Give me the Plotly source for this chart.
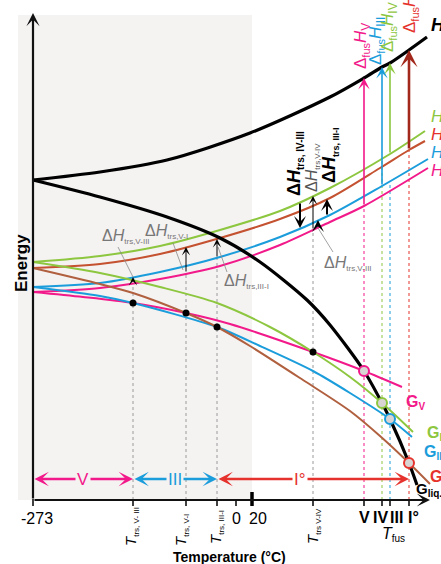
import plotly.graph_objects as go

FONT = "Liberation Sans, Arial, sans-serif"

PINK = "#f2198a"
BLUE = "#1b9ddb"
GREEN = "#8dc63f"
BROWN_H = "#c4512f"
BROWN_G = "#b0603f"
RED = "#e5322d"
DARKRED = "#a3281c"
SHADE = "#f5f2f2"
GREY = "#777777"
DOTGREY = "#9a9a9a"

# Temperature positions along the axis (arbitrary units, 0 = -273 °C)
T_ABS0 = 0
T_V_III = 100
T_V_I = 153
T_III_I = 184
T_ZERO = 203
T_TWENTY = 219
T_V_IV = 280
T_FUS = [331, 349, 357, 376]          # V, IV, III, I°
AXIS_END_T = 397
AXIS_TOP_E = 487

# Enthalpy curves (energy, arbitrary units)
h_liq_T = [0, 67, 134, 217, 297, 331, 349, 357, 376, 394]
h_liq_E = [320, 328, 340, 367, 403, 422, 433, 437, 450, 463]
h_V_T = [0, 67, 127, 187, 247, 297, 331, 395]
h_V_E = [208, 212, 221, 234, 255, 278, 294, 332]
h_III_T = [0, 67, 127, 187, 247, 297, 349, 395]
h_III_E = [213, 217, 228, 243, 263, 285, 314, 341]
h_I_T = [0, 67, 127, 187, 247, 297, 347, 376, 392]
h_I_E = [232, 236, 246, 262, 281, 302, 332, 350, 359]
h_IV_T = [0, 67, 127, 187, 247, 297, 357, 392]
h_IV_E = [238, 244, 254, 270, 289, 312, 346, 369]

# Free-energy curves
g_liq_T = [0, 67, 134, 187, 227, 274, 297, 331, 349, 357, 376, 384]
g_liq_E = [320, 303, 283, 262, 238, 200, 175, 129, 97, 81, 37, 15]
g_V_T = [0, 50, 100, 153, 197, 280, 331, 369]
g_V_E = [208, 203, 197, 187, 176, 148, 129, 113]
g_III_T = [0, 67, 100, 184, 227, 280, 317, 357, 379]
g_III_E = [213, 204, 197, 173, 154, 129, 107, 81, 63]
g_I_T = [0, 67, 100, 153, 184, 217, 270, 317, 347, 376, 397]
g_I_E = [232, 216, 207, 187, 173, 154, 120, 89, 64, 37, 16]
g_IV_T = [0, 67, 127, 184, 237, 280, 317, 349, 380]
g_IV_E = [238, 227, 213, 197, 173, 148, 123, 97, 68]

# Solid-solid transition points (G crossings) and enthalpy gaps there
trs_T = [T_V_III, T_V_I, T_III_I, T_V_IV]
trs_G = [197, 187, 173, 148]
trs_H_low = [217, 227, 242, 270]
trs_H_high = [223, 253, 261, 304]

# Melting points: G crossings with the liquid, H of solid and liquid
fus_G = [129, 97, 81, 37]
fus_H_solid = [294, 314, 346, 350]
fus_H_liq = [422, 433, 437, 450]
fus_arrow_colors = [PINK, BLUE, GREEN, DARKRED]
fus_circle_colors = [PINK, GREEN, BLUE, RED]
fus_dot_tops = [294, 341, 319, 350]
fus_dot_colors = [PINK, GREEN, BLUE, RED]

# Bold enthalpy-difference arrows near T_trs,V-IV
dh_T = [267, 294, 285]
dh_from = [298, 284, 272]
dh_to = [272, 301, 280]

# Stability ranges on the temperature axis
ranges = [("V", T_ABS0, T_V_III, PINK, 50, SHADE),
          ("III", T_V_III, T_III_I, BLUE, 142, SHADE),
          ("I°", T_III_I, T_FUS[3], RED, 267, "white")]

fig = go.Figure()


def curve(T, E, color, width):
    fig.add_trace(go.Scatter(x=T, y=E, mode="lines", hoverinfo="skip",
                             line=dict(color=color, width=width, shape="spline", smoothing=0.8)))


for T, E, c in [(h_V_T, h_V_E, PINK), (h_III_T, h_III_E, BLUE), (h_I_T, h_I_E, BROWN_H),
                (h_IV_T, h_IV_E, GREEN), (g_V_T, g_V_E, PINK), (g_III_T, g_III_E, BLUE),
                (g_I_T, g_I_E, BROWN_G), (g_IV_T, g_IV_E, GREEN)]:
    curve(T, E, c, 2)
curve(h_liq_T, h_liq_E, "black", 3.2)
curve(g_liq_T, g_liq_E, "black", 3.2)

fig.add_trace(go.Scatter(x=trs_T, y=trs_G, mode="markers", hoverinfo="skip",
                         marker=dict(color="black", size=7)))
fig.add_trace(go.Scatter(x=T_FUS, y=fus_G, mode="markers", hoverinfo="skip",
                         marker=dict(color="#d8d4d4", size=10,
                                     line=dict(color=fus_circle_colors, width=2))))

shapes = [dict(type="rect", xref="x", yref="y", x0=-15, x1=T_TWENTY, y0=0, y1=485,
               fillcolor=SHADE, line=dict(width=0), layer="below")]
for t, top in zip(trs_T, trs_H_low):
    shapes.append(dict(type="line", xref="x", yref="y", x0=t, x1=t, y0=0, y1=top,
                       line=dict(color=DOTGREY, width=1, dash="dot"), layer="below"))
for t, top, c in zip(T_FUS, fus_dot_tops, fus_dot_colors):
    shapes.append(dict(type="line", xref="x", yref="y", x0=t, x1=t, y0=0, y1=top,
                       line=dict(color=c, width=1, dash="dot"), layer="below"))
for t in [T_ABS0, T_V_III, T_V_I, T_III_I, T_ZERO, T_V_IV] + T_FUS:
    shapes.append(dict(type="line", xref="x", yref="y", x0=t, x1=t, y0=1, y1=-6,
                       line=dict(color="black", width=1.5)))
shapes.append(dict(type="line", xref="x", yref="y", x0=T_TWENTY, x1=T_TWENTY, y0=8, y1=-6,
                   line=dict(color="black", width=3.5)))

ann = []


def arrow(x0, y0, x1, y1, color, width, head=3, size=1.0, both=False):
    d = dict(x=x1, y=y1, ax=x0, ay=y0, xref="x", yref="y", axref="x", ayref="y",
             showarrow=True, arrowhead=head, arrowsize=size, arrowwidth=width,
             arrowcolor=color, text="", standoff=0, startstandoff=0)
    if both:
        d.update(arrowside="end+start", startarrowhead=head, startarrowsize=size)
    ann.append(d)


def label(x, y, text, size, color, angle=0, xanchor="center", yanchor="middle", bg=None,
          xshift=0, yshift=0):
    d = dict(x=x, y=y, xref="x", yref="y", text=text, showarrow=False, textangle=angle,
             xanchor=xanchor, yanchor=yanchor, xshift=xshift, yshift=yshift,
             font=dict(family=FONT, size=size, color=color))
    if bg:
        d.update(bgcolor=bg, borderpad=1)
    ann.append(d)


def sub(text, px):
    return f"<sub><span style='font-size:{px}px'>{text}</span></sub>"


# axes
arrow(0, 0, 0, AXIS_TOP_E, "#111111", 2.2, size=1.0)
arrow(0, 0, AXIS_END_T, 0, "#111111", 2.2, size=1.0)

# enthalpy difference arrows
for t, lo, hi in zip(trs_T, trs_H_low, trs_H_high):
    arrow(t, lo, t, hi, "black", 1, size=1.4)
for t, a, b in zip(dh_T, dh_from, dh_to):
    arrow(t, a, t, b, "black", 2, size=1.0)

# melting enthalpy arrows
for t, a, b, c in zip(T_FUS, fus_H_solid, fus_H_liq, fus_arrow_colors):
    w = 2.6 if c == DARKRED else 1.6
    arrow(t, a, t, b, c, w, size=1.1 if c == DARKRED else 1.2)

# stability ranges
for name, a, b, c, mid, bg in ranges:
    arrow(a, 21, b, 21, c, 2.4, size=1.0, both=True)
    label(mid, 21, name, 17, c, bg=bg)

# leader lines for grey ΔH labels
for (x0, y0, x1, y1) in [(85, 253, 100, 223), (140, 257, 150, 230),
                         (194, 228, 185, 253), (300, 248, 285, 272)]:
    shapes.append(dict(type="line", xref="x", yref="y", x0=x0, x1=x1, y0=y0, y1=y1,
                       line=dict(color="#8a8a8a", width=0.8)))

label(67, 264, "Δ<i>H</i>" + sub("trs,V-III", 8), 16, GREY, xanchor="left")
label(110, 269, "Δ<i>H</i>" + sub("trs,V-I", 8), 16, GREY, xanchor="left")
label(189, 219, "Δ<i>H</i>" + sub("trs,III-I", 8), 16, GREY, xanchor="left")
label(289, 237, "Δ<i>H</i>" + sub("trs,V-III", 8), 16, GREY, xanchor="left")

label(262, 336, "<b>Δ<i>H</i>" + sub("trs, IV-III", 10) + "</b>", 18, "black", angle=-90)
label(279, 332, "Δ<i>H</i>" + sub("trs,V-IV", 8), 16, "#555555", angle=-90)
label(297, 344, "<b>Δ<i>H</i>" + sub("trs, III-I", 9) + "</b>", 18, "black", angle=-90)

# melting enthalpy labels
for t, e, name, c in [(329, 454, "V", PINK), (344, 459, "III", BLUE),
                      (356, 473, "IV", GREEN), (378, 488, "I", RED)]:
    label(t, e, "Δ" + sub("fus", 11) + "<i>H</i>" + sub(name, 12), 17, c, angle=-90)

# curve names on the right
label(396, 474, "<b><i>H</i>" + sub("liq.", 11) + "</b>", 18, "black", xanchor="left")
for e, name, c in [(383, "IV", GREEN), (365, "I", RED), (347, "III", BLUE), (329, "V", PINK)]:
    label(396, e, "<i>H</i>" + sub(name, 10), 17, c, xanchor="left")
label(371, 98, "<b>G" + sub("V", 10) + "</b>", 16, PINK, xanchor="left")
label(392, 67, "<b>G" + sub("IV", 10) + "</b>", 16, GREEN, xanchor="left")
label(389, 48, "<b>G" + sub("III", 10) + "</b>", 16, BLUE, xanchor="left")
label(395, 23, "<b>G" + sub("I", 10) + "</b>", 16, RED, xanchor="left")
label(381, 11, "<b>G" + sub("liq.", 10) + "</b>", 15, "black", xanchor="left")

# axis labels
label(4, -18, "-273", 16, "black")
label(T_ZERO, -18, "0", 16, "black")
label(225, -18, "20", 16, "black")
for t, name in [(331, "V"), (347, "IV"), (363, "III"), (380, "I°")]:
    label(t, -17, f"<b>{name}</b>", 16, "black")
label(347, -34, "<i>T</i>" + sub("fus", 10), 16, "black", xanchor="left")
for t, e, name in [(98, -27, "trs, V- III"), (148, -30, "trs, V-I"),
                   (183, -27, "trs, III-I"), (280, -26, "trs V-IV")]:
    label(t, e, "<i>T</i>" + sub(name, 8), 15, "black", angle=-90)
label(196, -57, "<b>Temperature (°C)</b>", 14, "black")
label(-12, 237, "<b>Energy</b>", 17, "black", angle=-90)

fig.update_layout(
    width=441, height=564, autosize=False,
    margin=dict(l=0, r=0, t=0, b=0),
    paper_bgcolor="white", plot_bgcolor="white",
    showlegend=False,
    xaxis=dict(range=[-33, 408], visible=False, fixedrange=True),
    yaxis=dict(range=[-64, 500], visible=False, fixedrange=True),
    shapes=shapes, annotations=ann,
)

fig.write_html("out.html", config={"displayModeBar": False})
